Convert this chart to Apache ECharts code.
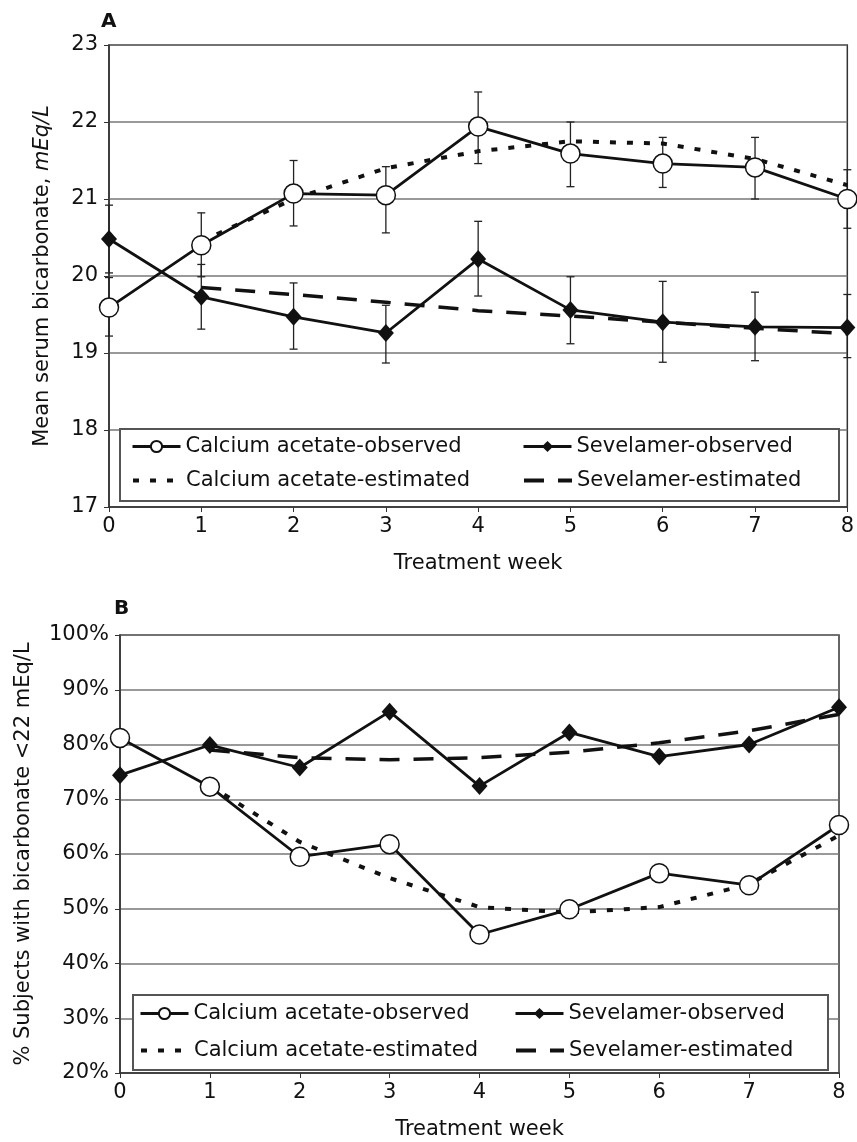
<!DOCTYPE html>
<html>
<head>
<meta charset="utf-8">
<script src="https://cdn.jsdelivr.net/npm/echarts@6/dist/echarts.min.js"></script>
<style>
  html, body { margin: 0; padding: 0; background: #fff; }
  #chart { width: 857px; height: 1142px; }
</style>
</head>
<body>
<div id="chart"></div>
<script>
const weeks = [0, 1, 2, 3, 4, 5, 6, 7, 8];

// Panel A: mean serum bicarbonate (mEq/L)
const caObsA  = [19.59, 20.40, 21.07, 21.05, 21.94, 21.59, 21.46, 21.41, 21.00];
const caLowA  = [19.22, 19.99, 20.65, 20.56, 21.46, 21.16, 21.15, 21.00, 20.62];
const caHighA = [19.98, 20.82, 21.50, 21.42, 22.39, 22.00, 21.80, 21.80, 21.38];
const sevObsA  = [20.48, 19.73, 19.47, 19.26, 20.22, 19.56, 19.40, 19.34, 19.33];
const sevLowA  = [20.04, 19.31, 19.05, 18.87, 19.74, 19.12, 18.88, 18.90, 18.94];
const sevHighA = [20.92, 20.15, 19.91, 19.62, 20.71, 19.99, 19.93, 19.79, 19.76];
const caEstA  = [null, 20.45, 21.00, 21.40, 21.62, 21.75, 21.72, 21.52, 21.18];
const sevEstA = [null, 19.85, 19.76, 19.66, 19.55, 19.48, 19.40, 19.32, 19.25];
const yTicksA = [17, 23, 1];

// Panel B: % subjects with bicarbonate <22 mEq/L
const caObsB  = [81.2, 72.3, 59.5, 61.8, 45.3, 49.9, 56.5, 54.3, 65.3];
const sevObsB = [74.4, 79.9, 75.8, 86.0, 72.4, 82.2, 77.8, 80.0, 86.8];
const caEstB  = [null, 72.5, 62.2, 55.6, 50.3, 49.3, 50.3, 54.5, 63.4];
const sevEstB = [null, 79.0, 77.6, 77.2, 77.6, 78.6, 80.3, 82.5, 85.5];
const yTicksB = [20, 100, 10];

const names = ['Calcium acetate-observed', 'Sevelamer-observed',
               'Calcium acetate-estimated', 'Sevelamer-estimated'];

const FONT = 'DejaVu Sans';
const INK = '#111';

const pairs = (vals) => weeks.map((w, i) => [w, vals[i]]).filter(p => p[1] != null);
const bars = (lo, hi) => weeks.map((w, i) => [w, lo[i], hi[i]]);

function errorBar(params, api) {
    const x = api.value(0);
    const lo = api.coord([x, api.value(1)]);
    const hi = api.coord([x, api.value(2)]);
    const w = 4;
    const style = { stroke: '#222', lineWidth: 1.3 };
    return {
        type: 'group',
        children: [
            { type: 'line', shape: { x1: lo[0], y1: lo[1], x2: hi[0], y2: hi[1] }, style },
            { type: 'line', shape: { x1: lo[0] - w, y1: lo[1], x2: lo[0] + w, y2: lo[1] }, style },
            { type: 'line', shape: { x1: hi[0] - w, y1: hi[1], x2: hi[0] + w, y2: hi[1] }, style }
        ]
    };
}

function lineSeries(idx, name, data) {
    const base = {
        name: name,
        type: 'line',
        xAxisIndex: idx,
        yAxisIndex: idx,
        data: data,
        animation: false,
        silent: true
    };
    if (name === names[0]) {
        return Object.assign(base, {
            z: 4, symbol: 'circle', symbolSize: 19,
            itemStyle: { color: '#fff', borderColor: INK, borderWidth: 1.5 },
            lineStyle: { color: INK, width: 2.8 }
        });
    }
    if (name === names[1]) {
        return Object.assign(base, {
            z: 4, symbol: 'diamond', symbolSize: [16, 18],
            itemStyle: { color: INK },
            lineStyle: { color: INK, width: 2.8 }
        });
    }
    if (name === names[2]) {
        return Object.assign(base, {
            z: 3, symbol: 'none', itemStyle: { color: INK },
            lineStyle: { color: INK, width: 4, type: [6, 11] }
        });
    }
    return Object.assign(base, {
        z: 3, symbol: 'none', itemStyle: { color: INK },
        lineStyle: { color: INK, width: 3.5, type: [20, 14] }
    });
}

function legendItem(name, left, centerY) {
    const est = name.indexOf('estimated') > 0;
    return {
        data: [name],
        left: left,
        top: centerY - 12,
        padding: 0,
        itemWidth: 48,
        itemHeight: 14,
        itemGap: 0,
        selectedMode: false,
        z: 10,
        itemStyle: est ? { opacity: 0 } : {},
        lineStyle: { width: est ? 4 : 3 },
        textStyle: { fontFamily: FONT, fontSize: 21, color: INK }
    };
}

function xAxis(idx) {
    return {
        type: 'value',
        gridIndex: idx,
        min: 0, max: 8, interval: 1,
        name: 'Treatment week',
        nameLocation: 'middle',
        nameGap: 46,
        nameTextStyle: { fontFamily: FONT, fontSize: 21, color: INK },
        axisLine: { lineStyle: { color: '#333', width: 1.5 } },
        axisTick: { show: true, length: 5, lineStyle: { color: '#333' } },
        axisLabel: { fontFamily: FONT, fontSize: 21, color: INK, margin: 9 },
        splitLine: { show: false }
    };
}

function yAxis(idx, ticks, name, gap, fmt, rich) {
    return {
        type: 'value',
        gridIndex: idx,
        min: ticks[0], max: ticks[1], interval: ticks[2],
        name: name,
        nameLocation: 'middle',
        nameGap: gap,
        nameTextStyle: { fontFamily: FONT, fontSize: 21, color: INK, rich: rich },
        axisLine: { show: true, lineStyle: { color: '#333', width: 1.5 } },
        axisTick: { show: true, length: 5, lineStyle: { color: '#333' } },
        axisLabel: { fontFamily: FONT, fontSize: 21, color: INK, margin: 11, formatter: fmt },
        splitLine: { lineStyle: { color: '#777', width: 1.5 } }
    };
}

const chart = echarts.init(document.getElementById('chart'), null, { renderer: 'canvas' });

const option = {
    backgroundColor: '#fff',
    animation: false,
    title: [
        { text: 'A', left: 101, top: 12, padding: 0,
          textStyle: { fontFamily: FONT, fontSize: 20, fontWeight: 'bold', color: INK } },
        { text: 'B', left: 114, top: 599, padding: 0,
          textStyle: { fontFamily: FONT, fontSize: 20, fontWeight: 'bold', color: INK } }
    ],
    grid: [
        { left: 109, right: 5, top: 45, bottom: 635, show: true,
          borderColor: '#333', borderWidth: 1.5 },
        { left: 120, right: 18, top: 635, bottom: 69, show: true,
          borderColor: '#333', borderWidth: 1.5 }
    ],
    xAxis: [xAxis(0), xAxis(1)],
    yAxis: [
        yAxis(0, yTicksA, 'Mean serum bicarbonate, {i|mEq/L}', 56, '{value}',
              { i: { fontFamily: FONT, fontSize: 21, fontStyle: 'italic', color: INK } }),
        yAxis(1, yTicksB, '% Subjects with bicarbonate <22 mEq/L', 86, '{value}%')
    ],
    graphic: [
        { type: 'rect', z: 3, shape: { x: 120, y: 429, width: 719, height: 72 },
          style: { fill: '#fff', stroke: '#555', lineWidth: 2 } },
        { type: 'rect', z: 3, shape: { x: 133, y: 995, width: 695, height: 75 },
          style: { fill: '#fff', stroke: '#555', lineWidth: 2 } }
    ],
    legend: [
        legendItem(names[0], 131, 448),
        legendItem(names[1], 522, 448),
        legendItem(names[2], 131, 482),
        legendItem(names[3], 522, 482),
        legendItem(names[0], 139, 1015),
        legendItem(names[1], 514, 1015),
        legendItem(names[2], 139, 1052),
        legendItem(names[3], 514, 1052)
    ],
    series: [
        { type: 'custom', xAxisIndex: 0, yAxisIndex: 0, z: 2, silent: true,
          renderItem: errorBar, encode: { x: 0, y: [1, 2] }, data: bars(caLowA, caHighA) },
        { type: 'custom', xAxisIndex: 0, yAxisIndex: 0, z: 2, silent: true,
          renderItem: errorBar, encode: { x: 0, y: [1, 2] }, data: bars(sevLowA, sevHighA) },
        lineSeries(0, names[2], pairs(caEstA)),
        lineSeries(0, names[3], pairs(sevEstA)),
        lineSeries(0, names[0], pairs(caObsA)),
        lineSeries(0, names[1], pairs(sevObsA)),
        lineSeries(1, names[2], pairs(caEstB)),
        lineSeries(1, names[3], pairs(sevEstB)),
        lineSeries(1, names[0], pairs(caObsB)),
        lineSeries(1, names[1], pairs(sevObsB))
    ]
};

chart.setOption(option);
</script>
</body>
</html>
